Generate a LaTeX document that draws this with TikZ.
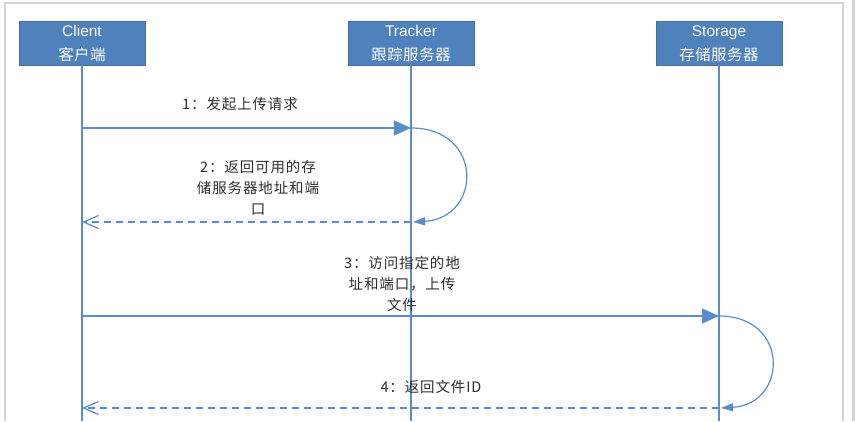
\documentclass[tikz,border=0pt]{standalone}
\usepackage{fontspec}
\setmainfont{Liberation Sans}
\newfontfamily\cjk[LetterSpace=6]{Noto Sans CJK SC}
\newfontfamily\cjkb[LetterSpace=3]{Noto Sans CJK SC}
\usetikzlibrary{arrows.meta}
\definecolor{boxfill}{HTML}{4F81BD}
\definecolor{boxedge}{HTML}{41719C}
\definecolor{lineblue}{HTML}{5B8BCB}
\definecolor{txt}{HTML}{2E2E2E}
\definecolor{framegray}{HTML}{D4D4D4}
\begin{document}
\begin{tikzpicture}[x=1pt,y=-1pt,
 actor/.style={draw=boxedge, fill=boxfill, line width=0.8pt, minimum width=126pt, minimum height=44pt, text=white, align=center, font=\fontsize{15.5}{23.5}\selectfont, inner sep=0pt, text depth=-2pt},
 life/.style={draw=lineblue, line width=1.2pt},
 msg/.style={draw=lineblue, line width=1.2pt, -{Triangle[length=17pt,width=15pt]}},
 ret/.style={draw=lineblue, line width=1.2pt, dash pattern=on 7pt off 5pt, -{Straight Barb[length=15pt,width=13pt,line width=1.2pt]}},
 selfloop/.style={draw=lineblue, line width=1.2pt, -{Triangle[length=12pt,width=8pt]}},
 lbl/.style={text=txt, align=center, font=\fontsize{14.5}{21}\selectfont\cjk, inner sep=0pt}]
\useasboundingbox (0,0) rectangle (855,421);
% frame
\draw[framegray, line width=2pt] (5,421) -- (5,3) -- (843,3) -- (843,421);
\fill[framegray] (852,0) rectangle (855,421);
% actors
\node[actor] (client) at (82,43) {Client\\{\cjkb 客户端}};
\node[actor] (tracker) at (411,43) {Tracker\\{\cjkb 跟踪服务器}};
\node[actor] (storage) at (719,43) {Storage\\{\cjkb 存储服务器}};
% lifeline ends
\coordinate (clientend) at (82,421);
\coordinate (trackerend) at (411,421);
\coordinate (storageend) at (719,421);
\draw[life] (client.south) -- (clientend);
\draw[life] (tracker.south) -- (trackerend);
\draw[life] (storage.south) -- (storageend);
% message points
\coordinate (c1) at (82,128);
\coordinate (t1) at (411,128);
\coordinate (t2) at (411,222);
\coordinate (t2a) at (413,222);
\coordinate (c2) at (82,222);
\coordinate (c3) at (82,316);
\coordinate (s3) at (719,316);
\coordinate (s4) at (719,408);
\coordinate (s4a) at (721,408);
\coordinate (c4) at (82,408);
% messages
\draw[msg] (c1) -- (t1);
\draw[selfloop] (t1) .. controls (484,128) and (482,218) .. (t2a);
\draw[ret] (t2) -- (c2);
\draw[msg] (c3) -- (s3);
\draw[selfloop] (s3) .. controls (790,316) and (788,404) .. (s4a);
\draw[ret] (s4) -- (c4);
% labels
\node[lbl] (l1) at (240,104) {1：发起上传请求};
\node[lbl] (l2) at (258,188) {2：返回可用的存\\储服务器地址和端\\口};
\node[lbl] (l3) at (402,284) {3：访问指定的地\\址和端口，上传\\文件};
\node[lbl] (l4) at (431,387) {4：返回文件ID};
\end{tikzpicture}
\end{document}
